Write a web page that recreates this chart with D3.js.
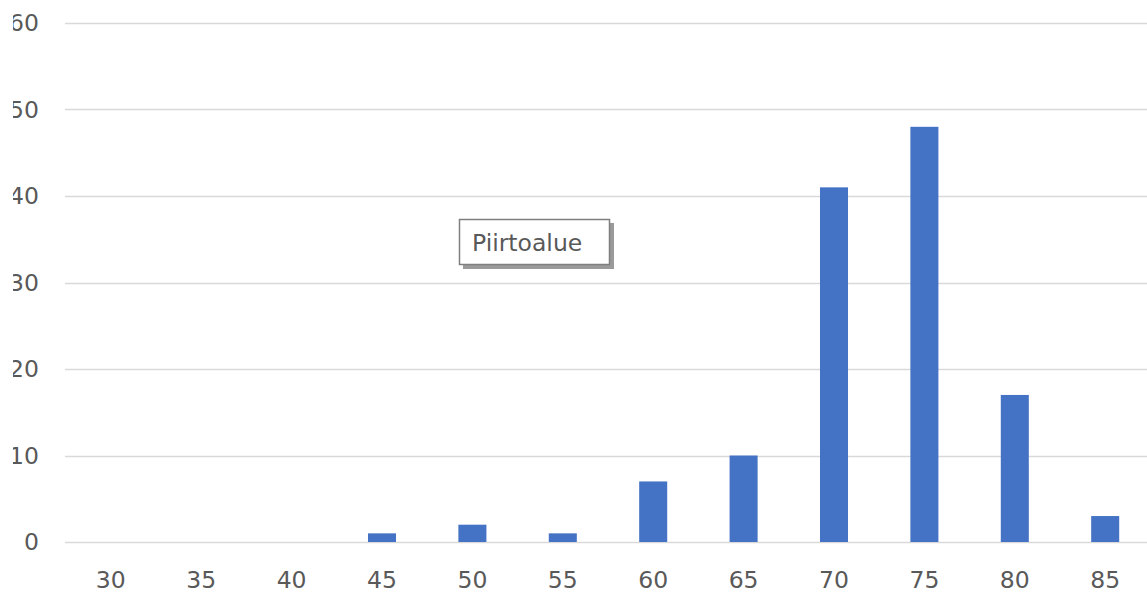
<!DOCTYPE html>
<html>
  <head>
    <meta charset="utf-8">
    <title>Histogram</title>
    <style>
      body{margin:0; background:#fff;}
      svg{display:block; font-family:"DejaVu Sans", sans-serif;}
    </style>
    <script src="https://d3js.org/d3.v7.min.js"></script>
  </head>
  <body>
    <script>

        // values
        var categories = ["30", "35", "40", "45", "50", "55", "60", "65", "70", "75", "80", "85"];
        var counts = [0, 0, 0, 1, 2, 1, 7, 10, 41, 48, 17, 3];
        var yTicks = [0, 10, 20, 30, 40, 50, 60];
        var plotLabel = "Piirtoalue";

        var width = 1147;
        var height = 598;

        var svg = d3.select("body").append("svg")
            .attr("width", width)
            .attr("height", height);

        var x = d3.scaleBand()
            .domain(categories)
            .range([65.6, 1150.4])
            .paddingInner(0.69)
            .paddingOuter(0.345);

        var y = d3.scaleLinear()
            .domain([0, 60])
            .range([542, 23]);

        // the labels on the left are cut off in the picture
        svg.append("clipPath")
            .attr("id", "cut")
            .append("rect")
            .attr("x", 13).attr("y", 0)
            .attr("width", width).attr("height", height);

        // gridlines
        svg.append("g")
            .selectAll("line")
            .data(yTicks)
            .enter()
            .append("line")
            .attr("x1", 65)
            .attr("x2", width)
            .attr("y1", function (d) { return Math.round(y(d)) + 0.5; })
            .attr("y2", function (d) { return Math.round(y(d)) + 0.5; })
            .attr("stroke", "#d9d9d9")
            .attr("stroke-width", 1.6);

        // y axis labels
        svg.append("g")
            .attr("clip-path", "url(#cut)")
            .selectAll("text")
            .data(yTicks)
            .enter()
            .append("text")
            .attr("x", 39)
            .attr("y", function (d) { return y(d); })
            .attr("dy", "0.36em")
            .attr("text-anchor", "end")
            .attr("fill", "#595959")
            .style("font-size", "23.5px")
            .text(function (d) { return d; });

        // bars
        svg.append("g")
            .selectAll("rect")
            .data(counts)
            .enter()
            .append("rect")
            .attr("x", function (d, i) { return x(categories[i]); })
            .attr("width", x.bandwidth())
            .attr("y", function (d) { return y(d); })
            .attr("height", function (d) { return y(0) - y(d); })
            .attr("fill", "#4472c4");

        // x axis labels
        svg.append("g")
            .selectAll("text")
            .data(categories)
            .enter()
            .append("text")
            .attr("x", function (d) { return x(d) + x.bandwidth() / 2; })
            .attr("y", 580)
            .attr("dy", "0.36em")
            .attr("text-anchor", "middle")
            .attr("fill", "#595959")
            .style("font-size", "23.5px")
            .text(function (d) { return d; });

        // hover label box
        var tip = svg.append("g").attr("transform", "translate(459,219)");
        tip.append("rect")
            .attr("x", 4).attr("y", 4)
            .attr("width", 151).attr("height", 46)
            .attr("fill", "#9a9a9a");
        tip.append("rect")
            .attr("x", 0.5).attr("y", 0.5)
            .attr("width", 150).attr("height", 45)
            .attr("fill", "#fff")
            .attr("stroke", "#7f7f7f")
            .attr("stroke-width", 1.5);
        tip.append("text")
            .attr("x", 13)
            .attr("y", 24)
            .attr("dy", "0.36em")
            .attr("fill", "#595959")
            .style("font-size", "23.5px")
            .text(plotLabel);

    </script>
  </body>
</html>
